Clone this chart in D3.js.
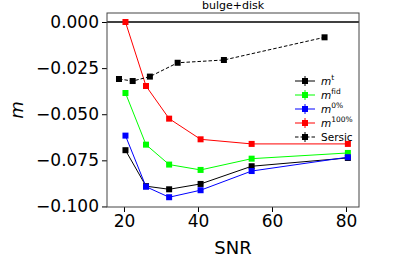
<!DOCTYPE html>
<html><head><meta charset="utf-8">
<script src="https://cdn.jsdelivr.net/npm/d3@7"></script>
<style>body{margin:0;background:#fff}svg{display:block;font-family:"DejaVu Sans",sans-serif;font-variant-ligatures:none}</style>
</head><body><svg id="c" width="399" height="266"></svg>
<script>
const snr = [20.4, 25.95, 32.2, 40.7, 54.5, 80.5];
const mT = [-0.0695, -0.0890, -0.0907, -0.0878, -0.0782, -0.0737];
const mFid = [-0.0385, -0.0665, -0.0773, -0.0802, -0.0741, -0.0710];
const m0 = [-0.0616, -0.0893, -0.0950, -0.0912, -0.0808, -0.0733];
const m100 = [0.0000, -0.0347, -0.0524, -0.0636, -0.0661, -0.0661];
const sersicSnr = [18.65, 22.35, 27.0, 34.5, 47.0, 74.2];
const sersicM = [-0.0309, -0.0320, -0.0296, -0.0221, -0.0206, -0.0083];
const xTicks = [20, 40, 60, 80];
const yTicks = [0, -0.025, -0.05, -0.075, -0.1];
const title = "bulge+disk";

const svg = d3.select("#c");
const L = 107, R = 359, T = 13, B = 207;
const x = d3.scaleLinear().domain([15.41, 83.51]).range([L, R]);
const y = d3.scaleLinear().domain([-0.1003, 0.00488]).range([B, T]);

const series = [
  {xs: snr, ys: mT, color: "black", dash: null, sup: "t"},
  {xs: snr, ys: mFid, color: "#00ff00", dash: null, sup: "fid"},
  {xs: snr, ys: m0, color: "#0000ff", dash: null, sup: "0%"},
  {xs: snr, ys: m100, color: "#ff0000", dash: null, sup: "100%"},
  {xs: sersicSnr, ys: sersicM, color: "black", dash: "3.5,2", label: "Sersic"}
];

svg.append("line").attr("x1", L).attr("x2", R).attr("y1", y(0)).attr("y2", y(0))
  .attr("stroke", "black").attr("stroke-width", 1.5);

const line = d3.line().x(d => x(d[0])).y(d => y(d[1]));
series.forEach(s => {
  const pts = s.xs.map((v, i) => [v, s.ys[i]]);
  svg.append("path").attr("d", line(pts)).attr("fill", "none")
    .attr("stroke", s.color).attr("stroke-width", 1)
    .attr("stroke-dasharray", s.dash);
  svg.selectAll(null).data(pts).enter().append("rect")
    .attr("x", d => x(d[0]) - 3).attr("y", d => y(d[1]) - 3)
    .attr("width", 6).attr("height", 6).attr("fill", s.color);
});

const xa = svg.append("g").attr("transform", `translate(0,${B})`)
  .call(d3.axisBottom(x).tickValues(xTicks).tickSize(5).tickPadding(3).tickFormat(d3.format("d")));
const ya = svg.append("g").attr("transform", `translate(${L},0)`)
  .call(d3.axisLeft(y).tickValues(yTicks).tickSize(5).tickPadding(3)
    .tickFormat(d => d3.format(".3f")(d).replace("-", "\u2212")));
[xa, ya].forEach(a => {
  a.select(".domain").remove();
  a.selectAll("text").attr("font-size", 17).attr("font-family", "DejaVu Sans").attr("fill", "black");
  a.selectAll("line").attr("stroke", "black");
});
svg.append("rect").attr("x", L).attr("y", T).attr("width", R - L).attr("height", B - T)
  .attr("fill", "none").attr("stroke", "#444").attr("stroke-width", 1);

svg.append("text").attr("x", (L + R) / 2).attr("y", 9).attr("text-anchor", "middle")
  .attr("font-size", 11).text(title);
svg.append("text").attr("x", 233).attr("y", 254).attr("text-anchor", "middle")
  .attr("font-size", 18).text("SNR");
svg.append("text").attr("transform", "translate(23,110) rotate(-90)").attr("text-anchor", "middle")
  .attr("font-size", 18).attr("font-style", "italic").text("m");

const lg = svg.append("g");
const ly0 = 81, ldy = 14;
series.forEach((s, i) => {
  const yy = ly0 + i * ldy;
  lg.append("line").attr("x1", 295).attr("x2", 315).attr("y1", yy).attr("y2", yy)
    .attr("stroke", s.color).attr("stroke-width", 1).attr("stroke-dasharray", s.dash);
  lg.append("line").attr("x1", 305).attr("x2", 305).attr("y1", yy - 5).attr("y2", yy + 5)
    .attr("stroke", s.color).attr("stroke-width", 1);
  lg.append("rect").attr("x", 302).attr("y", yy - 3).attr("width", 6).attr("height", 6).attr("fill", s.color);
  const t = lg.append("text").attr("x", 321).attr("y", yy + 4).attr("font-size", 10.5);
  if (s.label) t.text(s.label);
  else {
    t.append("tspan").attr("font-style", "italic").text("m");
    t.append("tspan").attr("font-size", 7.5).attr("dy", -5).text(s.sup);
  }
});
</script></body></html>
